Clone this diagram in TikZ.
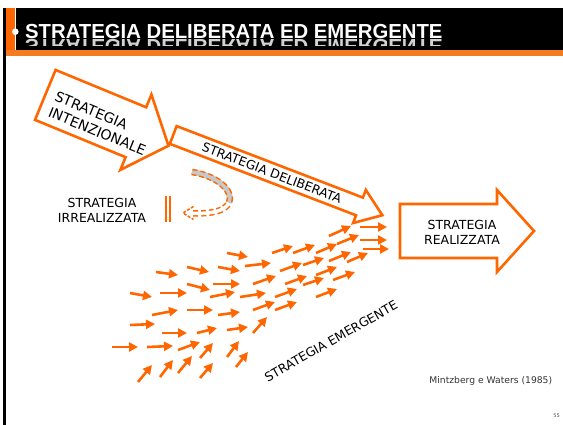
\documentclass[tikz,border=0pt]{standalone}
\usepackage{fontspec}
\setmainfont{DejaVu Sans}
\newfontfamily\titlefont{Liberation Sans}
\usetikzlibrary{arrows.meta}
\definecolor{arancio}{HTML}{FF6600}
\definecolor{fascia}{HTML}{F47B20}
\definecolor{ombra}{HTML}{C8C8C8}

% big outlined arrow: centre, angle, length, shaft, head width, head length
\newcommand{\frecciona}[6]{%
  \begin{scope}[shift={#1},rotate=#2]
    \draw[bordo] ({-#3/2},{-#4/2}) -- ({#3/2-#6},{-#4/2}) -- ({#3/2-#6},{-#5/2}) -- ({#3/2},0)
      -- ({#3/2-#6},{#5/2}) -- ({#3/2-#6},{#4/2}) -- ({-#3/2},{#4/2}) -- cycle;
  \end{scope}}

\tikzset{
  bordo/.style={draw=arancio,line width=2.6pt,fill=white,line join=miter},
  testo/.style={font=\fontsize{12.5}{15}\selectfont,align=center,inner sep=0pt},
  titolo/.style={font=\titlefont\bfseries\fontsize{20.3}{24}\selectfont,text=white,inner sep=0pt},
  freccina/.style={draw=arancio,line width=2.6pt,-{Triangle[length=9pt,width=9pt]}}
}

\begin{document}
\begin{tikzpicture}[x=1pt,y=-1pt]
  \useasboundingbox (0,0) rectangle (563,425);
  % header
  \fill[black] (15.5,8.5) rectangle (563,50.5);
  \fill[arancio] (5,8.5) rectangle (15.5,56.5);
  \fill[fascia] (5,50.5) rectangle (563,56.5);
  \draw[white,line width=0.8pt] (15.5,8.5) -- (15.5,50.5);
  \draw[black,line width=2.4pt] (4.6,8.5) -- (4.6,425);
  \fill[white] (15.3,31.7) circle (3.3);
  \node[titolo,anchor=base west] (titolo) at (25,38.3) {STRATEGIA DELIBERATA ED EMERGENTE};
  \begin{scope}
    \clip (16,39) rectangle (563,46);
    \node[titolo,text=gray!35,anchor=base west,yscale=-1] at (25,39.8) {STRATEGIA DELIBERATA ED EMERGENTE};
  \end{scope}

  % block arrows
  \frecciona{(106.9,120.3)}{-22.4}{133.3}{54}{81.5}{35.3}
  \frecciona{(277.8,175.1)}{-21}{224}{19}{35.4}{24.5}
  \frecciona{(467,231)}{0}{134}{54}{82}{37}

  \node[testo,font=\fontsize{14}{17}\selectfont,align=left,rotate=-22.4] (intenz) at (100.5,123.5) {STRATEGIA\\INTENZIONALE};
  \node[testo,rotate=-21] (delib) at (272,173) {STRATEGIA DELIBERATA};
  \node[testo] (realiz) at (462,232) {STRATEGIA\\REALIZZATA};
  \node[testo] (irreal) at (102,210) {STRATEGIA\\IRREALIZZATA};
  \node[testo,rotate=29.5] (emerg) at (331,341) {STRATEGIA EMERGENTE};
  \node[font=\fontsize{9.2}{11}\selectfont,text=black!80] (fonte) at (490.8,381) {Mintzberg e Waters (1985)};
  \node[font=\fontsize{5}{6}\selectfont,text=black!70] (pagina) at (556.5,416) {55};

  % unrealised strategy
  \coordinate (inizio) at (192,172);
  \coordinate (gomito) at (229,203);
  \coordinate (fine) at (193,213.5);
  \draw[ombra,line width=6pt] (inizio) .. controls (218,176) and (234,191) .. (gomito);
  \draw[arancio,line width=6.5pt,dash pattern=on 5pt off 3pt] (inizio) .. controls (218,176) and (234,191) .. (gomito)
    .. controls (224,211) and (214,213.5) .. (fine);
  \draw[ombra,line width=3.5pt] (inizio) .. controls (218,176) and (234,191) .. (gomito);
  \draw[white,line width=3.5pt] (gomito) .. controls (224,211) and (214,213.5) .. (fine);
  \draw[arancio,line width=1.5pt,dash pattern=on 3pt off 1.5pt] (193.5,206.5) -- (183,213) -- (193.5,219.5);
  \draw[arancio,line width=2pt] (165.7,196) -- (165.7,222) (170.3,196) -- (170.3,222);

  % emergent strategy
  \foreach \xa/\ya/\xb/\yb in {112/347/138/347, 147/347/173/346, 130/325/155/324, 162/333/187/333,
      178/350/200/342, 138/382/152/365, 160/377/173/360, 178/373/192/356, 200/378/213/363,
      200/358/213/343, 197/333/217/328, 227/357/239/341, 236/367/248/352, 227/330/248/327,
      253/333/267/317, 152/315/178/310, 187/310/213/310, 218/315/240/312, 253/310/275/302,
      275/310/297/302, 130/293/152/297, 160/293/187/293, 187/284/210/290, 210/297/235/292,
      213/284/240/284, 240/297/266/293, 275/297/297/289, 285/284/307/276, 253/284/276/276,
      316/297/337/289, 156/272/178/275, 187/267/209/272, 218/267/240/271, 227/253/248/257,
      245/266/271/263, 280/271/302/263, 272/253/293/246, 293/253/315/245, 316/253/337/244,
      303/265/324/258, 316/275/337/267, 303/285/324/278, 333/280/355/272, 329/261/351/252,
      329/236/351/226, 337/244/359/235, 347/262/368/253, 360/227/387/227, 360/240/387/240,
      363/249/389/249}
    \draw[freccina] (\xa,\ya) -- (\xb,\yb);
\end{tikzpicture}
\end{document}
